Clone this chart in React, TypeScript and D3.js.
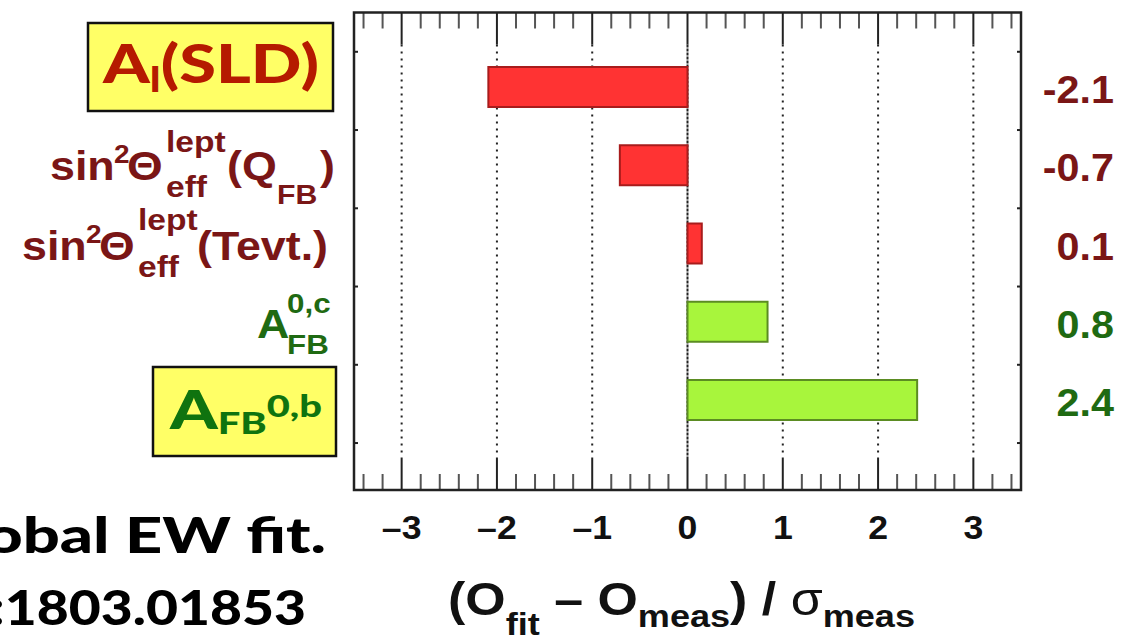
import React from "react";
import * as d3 from "d3";

const categories = ["Al(SLD)", "sin2(QFB)", "sin2(Tevt.)", "AFB0c", "AFB0b"];
const pulls = [-2.09, -0.71, 0.15, 0.84, 2.41];
const pullLabels = ["-2.1", "-0.7", "0.1", "0.8", "2.4"];
const xTicks = [-3, -2, -1, 0, 1, 2, 3];
const xTickLabels = ["\u20133", "\u20132", "\u20131", "0", "1", "2", "3"];

const W = 1143;
const H = 640;
const RED = "#7a1616";
const GREEN = "#1f6a12";
const ARIAL = "'Liberation Sans', Arial, Helvetica, sans-serif";
const GILL = "Lato, 'Open Sans', sans-serif";

function T(props: any) {
  const { x, y, size, sx = 1.12, anchor = "start", fill = RED, family = ARIAL, weight = 700, children } = props;
  return (
    <text
      transform={`translate(${x},${y}) scale(${sx},1)`}
      fontSize={size}
      fontFamily={family}
      fontWeight={weight}
      textAnchor={anchor}
      fill={fill}
    >
      {children}
    </text>
  );
}

export default function App() {
  const x = d3.scaleLinear().domain([-3.5, 3.5]).range([354, 1021]);
  const y = d3.scaleLinear().domain([0, 4]).range([87, 400]);
  const top = 12.5;
  const bottom = 490;
  const barH = 40;
  const minor = d3.range(-34, 35).map((d) => d / 10).filter((d) => Math.abs(Math.round(d * 10) % 2) === 0 && !Number.isInteger(d));
  const rowTicks = d3.range(6).map((i) => y(i - 0.45));

  const c1 = y(1);
  const c2 = y(2);
  const c3 = y(3);

  return (
    <svg width={W} height={H} style={{ position: "absolute", left: 0, top: 0, background: "#fff" }}>
      {/* grid lines */}
      {xTicks.map((t) => (
        <line
          key={"g" + t}
          x1={x(t)}
          x2={x(t)}
          y1={top + 32}
          y2={bottom - 32}
          stroke="#222"
          strokeWidth={2}
          strokeDasharray={t === 0 ? "3,1" : "2,5"}
        />
      ))}
      {/* bars */}
      {pulls.map((v, i) => (
        <rect
          key={"b" + i}
          x={x(Math.min(0, v))}
          y={y(i) - barH / 2}
          width={Math.abs(x(v) - x(0))}
          height={barH}
          fill={v < 0 || i < 3 ? "#ff3333" : "#a8f53c"}
          stroke={v < 0 || i < 3 ? "#a81c1c" : "#5b8c22"}
          strokeWidth={2}
        />
      ))}
      {/* minor ticks */}
      {minor.map((t) => (
        <g key={"m" + t}>
          <line x1={x(t)} x2={x(t)} y1={top} y2={top + 16} stroke="#555" strokeWidth={2} />
          <line x1={x(t)} x2={x(t)} y1={bottom} y2={bottom - 16} stroke="#555" strokeWidth={2} />
        </g>
      ))}
      {xTicks.map((t) => (
        <g key={"M" + t}>
          <line x1={x(t)} x2={x(t)} y1={top} y2={top + 32} stroke="#222" strokeWidth={2} />
          <line x1={x(t)} x2={x(t)} y1={bottom} y2={bottom - 32} stroke="#222" strokeWidth={2} />
        </g>
      ))}
      {rowTicks.map((r, i) => (
        <g key={"r" + i}>
          <line x1={x(-3.5)} x2={x(-3.5) + 4} y1={r} y2={r} stroke="#222" strokeWidth={2} />
          <line x1={x(3.5)} x2={x(3.5) - 4} y1={r} y2={r} stroke="#222" strokeWidth={2} />
        </g>
      ))}
      {/* frame */}
      <rect x={x(-3.5)} y={top} width={x(3.5) - x(-3.5)} height={bottom - top} fill="none" stroke="#222" strokeWidth={2.5} />

      {/* tick labels */}
      {xTicks.map((t, i) => (
        <T key={"tl" + t} x={x(t)} y={539} size={33} sx={1.08} anchor="middle" fill="#111">
          {xTickLabels[i]}
        </T>
      ))}

      {/* axis title */}
      <text x={448} y={615} fontFamily={ARIAL} fontWeight={700} fontSize={46} fill="#111" textLength={467} lengthAdjust="spacingAndGlyphs">
        (O<tspan fontSize={32} dy={20}>fit</tspan>
        <tspan dy={-20}> – O</tspan>
        <tspan fontSize={32} dy={12}>meas</tspan>
        <tspan dy={-12}>) /  </tspan>
        <tspan fontWeight={400}>σ</tspan>
        <tspan fontSize={32} dy={12}>meas</tspan>
      </text>

      {/* right values */}
      {pullLabels.map((l, i) => (
        <T key={"pl" + i} x={1114} y={y(i) + 16} size={39} sx={1.06} anchor="end" fill={i < 3 ? RED : GREEN}>
          {l}
        </T>
      ))}

      {/* left labels row 1 */}
      <T x={50} y={c1 + 15} size={40}>sin</T>
      <T x={114} y={c1 - 2} size={25}>2</T>
      <T x={127} y={c1 + 15} size={41}>Θ</T>
      <T x={166} y={c1 - 13} size={30}>lept</T>
      <T x={166} y={c1 + 32} size={30}>eff</T>
      <T x={227} y={c1 + 15} size={40}>(Q</T>
      <T x={277} y={c1 + 39} size={27}>FB</T>
      <T x={320} y={c1 + 15} size={40}>)</T>
      {/* row 2 */}
      <T x={22} y={c2 + 16} size={40}>sin</T>
      <T x={86} y={c2 - 1} size={25}>2</T>
      <T x={99} y={c2 + 16} size={41}>Θ</T>
      <T x={138} y={c2 - 14} size={30}>lept</T>
      <T x={138} y={c2 + 33} size={30}>eff</T>
      <T x={197} y={c2 + 16} size={40}>(Tevt.)</T>
      {/* row 3 */}
      <T x={257} y={c3 + 16} size={40} fill={GREEN}>A</T>
      <T x={287} y={c3 - 9} size={28} fill={GREEN}>0,c</T>
      <T x={287} y={c3 + 32} size={28} fill={GREEN}>FB</T>

      {/* highlighted boxes */}
      <rect x={88} y={23} width={245} height={88} fill="#ffff66" stroke="#111" strokeWidth={2.5} />
      <text x={103} y={83} fontFamily={GILL} fontWeight={900} fontSize={53} fill="#b51a00" textLength={216} lengthAdjust="spacingAndGlyphs">
        A<tspan fontSize={34} dy={9}>l</tspan>
        <tspan dy={-9}>(SLD)</tspan>
      </text>
      <rect x={153} y={367} width={183} height={89} fill="#ffff66" stroke="#111" strokeWidth={2.5} />
      <text x={170} y={429} fontFamily={GILL} fontWeight={900} fontSize={53} fill="#0f730f" textLength={152} lengthAdjust="spacingAndGlyphs">
        A<tspan fontSize={31} dy={5}>FB</tspan>
        <tspan fontSize={31} dy={-17}>0,b</tspan>
      </text>

      {/* bottom left slide text */}
      <T x={326} y={553} size={50} sx={1.3} anchor="end" fill="#000" family={GILL} weight={900}>Global EW fit.</T>
      <T x={306} y={625} size={48} sx={1.15} anchor="end" fill="#000" family={GILL} weight={900}>arXiv:1803.01853</T>
    </svg>
  );
}
